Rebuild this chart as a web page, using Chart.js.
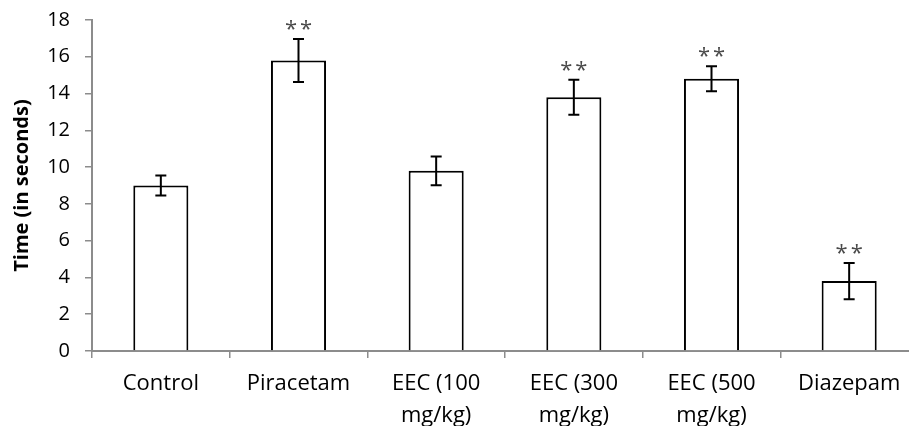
<!DOCTYPE html>
<html>
<head>
<meta charset="utf-8">
<script src="https://cdn.jsdelivr.net/npm/chart.js@4/dist/chart.umd.min.js"></script>
<style>
html,body{margin:0;padding:0;overflow:hidden;background:#fff;}
#wrap{width:918px;height:426px;}
</style>
</head>
<body>
<div id="wrap"><canvas id="c" width="918" height="426"></canvas></div>
<script>
const categories = ['Control', 'Piracetam', ['EEC (100', 'mg/kg)'], ['EEC (300', 'mg/kg)'], ['EEC (500', 'mg/kg)'], 'Diazepam'];
const meanTime = [9.0, 15.8, 9.8, 13.8, 14.8, 3.8];
const errTime = [0.55, 1.17, 0.78, 0.95, 0.68, 0.98];
const significance = ['', '**', '', '**', '**', '**'];
const yTicks = [0, 2, 4, 6, 8, 10, 12, 14, 16, 18];

const FONT = '"Open Sans", sans-serif';

const errorBarPlugin = {
  id: 'errorBars',
  afterDatasetsDraw(chart) {
    const ctx = chart.ctx;
    const xs = chart.scales.x, ys = chart.scales.y;
    ctx.save();
    meanTime.forEach((m, i) => {
      const x = xs.getPixelForValue(i);
      const yTop = ys.getPixelForValue(m + errTime[i]);
      const yBot = ys.getPixelForValue(m - errTime[i]);
      ctx.strokeStyle = '#000';
      ctx.lineWidth = 2;
      ctx.beginPath();
      ctx.moveTo(x, yTop); ctx.lineTo(x, yBot);
      ctx.moveTo(x - 5.5, yTop); ctx.lineTo(x + 5.5, yTop);
      ctx.moveTo(x - 5.5, yBot); ctx.lineTo(x + 5.5, yBot);
      ctx.stroke();
      if (significance[i]) {
        ctx.fillStyle = '#4a4a4a';
        ctx.font = '22px ' + FONT;
        ctx.letterSpacing = '3px';
        ctx.textAlign = 'center';
        ctx.textBaseline = 'alphabetic';
        ctx.fillText(significance[i], x + 1.5, yTop - 3);
      }
    });
    ctx.restore();
  }
};

new Chart(document.getElementById('c'), {
  type: 'bar',
  data: {
    labels: categories,
    datasets: [{
      data: meanTime,
      backgroundColor: '#ffffff',
      borderColor: '#000000',
      borderWidth: 2,
      barPercentage: 0.4,
      categoryPercentage: 1.0
    }]
  },
  options: {
    responsive: false,
    animation: false,
    devicePixelRatio: 1,
    layout: { padding: { top: 8, right: 0, left: 0, bottom: 0 } },
    plugins: { legend: { display: false }, tooltip: { enabled: false } },
    scales: {
      x: {
        afterFit(s) { s.height = 75; },
        grid: { display: true, drawOnChartArea: false, offset: true, tickLength: 7, color: '#8c8c8c', lineWidth: 1.5 },
        border: { display: true, color: '#8c8c8c', width: 2 },
        ticks: { color: '#000', font: { family: FONT, size: 22, lineHeight: 1.45 }, padding: 10, maxRotation: 0, autoSkip: false }
      },
      y: {
        min: 0, max: 18,
        afterFit(s) { s.width = 92; },
        afterBuildTicks(s) { s.ticks = yTicks.map(v => ({ value: v })); },
        grid: { display: true, drawOnChartArea: false, tickLength: 7, color: '#8c8c8c', lineWidth: 1.5 },
        border: { display: true, color: '#8c8c8c', width: 2 },
        ticks: { color: '#000', font: { family: FONT, size: 20, lineHeight: 0.5 }, padding: 15 },
        title: { display: true, text: 'Time (in seconds)', color: '#000', font: { family: FONT, size: 20, weight: 'bold' }, padding: { top: 10, bottom: 0 } }
      }
    }
  },
  plugins: [errorBarPlugin]
});
</script>
</body>
</html>
